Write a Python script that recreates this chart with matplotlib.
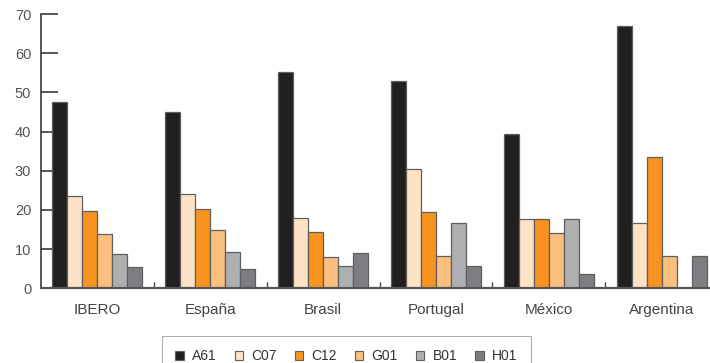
import matplotlib
matplotlib.use("Agg")
import matplotlib.pyplot as plt
from matplotlib.patches import Patch
import numpy as np

plt.rcParams['font.family'] = ['Liberation Sans', 'DejaVu Sans']

categories = ["IBERO", "España", "Brasil", "Portugal", "México", "Argentina"]
series_names = ["A61", "C07", "C12", "G01", "B01", "H01"]
A61 = [47.6, 45.1, 55.2, 52.9, 39.4, 67.0]
C07 = [23.6, 24.1, 18.0, 30.4, 17.8, 16.7]
C12 = [19.7, 20.3, 14.4, 19.4, 17.8, 33.4]
G01 = [13.8, 14.9, 7.9, 8.2, 14.1, 8.2]
B01 = [8.8, 9.2, 5.6, 16.7, 17.8, 0.0]
H01 = [5.4, 5.0, 8.9, 5.6, 3.6, 8.2]
series = [A61, C07, C12, G01, B01, H01]
colors = ["#231f20", "#fde3c6", "#f7931e", "#fbbf7e", "#aeafb1", "#7d7e81"]
yticks = [0, 10, 20, 30, 40, 50, 60, 70]

W, H = 710, 363
fig = plt.figure(figsize=(W / 100, H / 100), dpi=100)
left, right, bottom, top = 41, 718, 288.3, 14
ax = fig.add_axes([left / W, (H - bottom) / H, (right - left) / W, (bottom - top) / H])

x = np.arange(len(categories))
bw = 15 / 113
for j, (vals, c) in enumerate(zip(series, colors)):
    ax.bar(x + (j - 2.5) * bw, vals, width=bw, color=c, edgecolor="#5e5f61",
           linewidth=0.9, zorder=2)

ax.set_xlim(-0.5, 5.5)
ax.set_ylim(0, 70)
ax.set_axisbelow(True)
for s in ["top", "right"]:
    ax.spines[s].set_visible(False)
ax.spines["left"].set_color("#3a3a3a")
ax.spines["left"].set_linewidth(1.2)
ax.spines["bottom"].set_color("#555555")
ax.spines["bottom"].set_linewidth(1.6)
ax.spines["bottom"].set_zorder(3)

ax.set_yticks(yticks)
ax.tick_params(axis="y", direction="in", length=12.5, width=1.2, color="#3a3a3a",
               labelsize=10.5, labelcolor="#555555", pad=7)
ax.set_xticks(x)
ax.set_xticklabels(categories)
ax.tick_params(axis="x", which="major", length=0, labelsize=11, labelcolor="#444444", pad=10.5)
ax.set_xticks(x[:-1] + 0.5, minor=True)
ax.tick_params(axis="x", which="minor", direction="in", length=4.5, width=1.0, color="#444444")

handles = [Patch(facecolor=c, edgecolor="#5e5f61", linewidth=0.8) for c in colors]
leg = fig.legend(handles, series_names, ncol=6, loc="upper left",
                 bbox_to_anchor=(162 / W, 1 - 336 / H), borderaxespad=0,
                 frameon=True, fancybox=False, fontsize=10,
                 handlelength=0.6, handleheight=0.6, handletextpad=0.6,
                 columnspacing=1.3, borderpad=0.95)
leg.get_frame().set_edgecolor("#999999")
leg.get_frame().set_linewidth(0.8)
for t in leg.get_texts():
    t.set_color("#333333")

fig.savefig("out.png", dpi=100)
